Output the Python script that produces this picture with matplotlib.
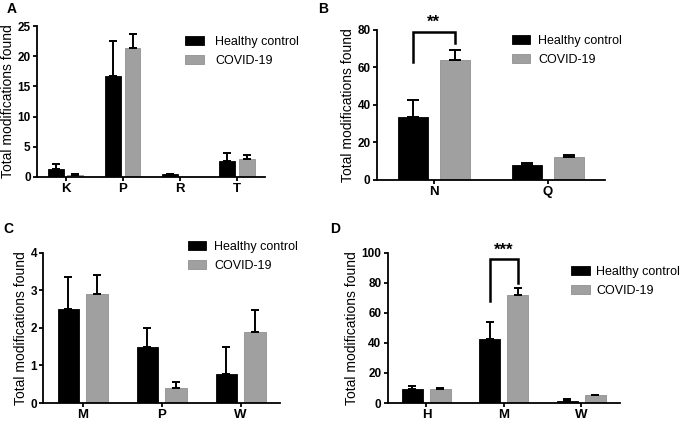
import matplotlib.pyplot as plt
import numpy as np

plt.rc('font', family='Liberation Sans', size=9)

# Panel A
a_cats = ['K', 'P', 'R', 'T']
a_hc = [1.3, 16.7, 0.4, 2.6]
a_hc_err = [0.9, 5.8, 0.1, 1.4]
a_cov = [0.35, 21.3, 0.0, 2.9]
a_cov_err = [0.05, 2.4, 0.0, 0.7]

# Panel B
b_cats = ['N', 'Q']
b_hc = [33.5, 8.0]
b_hc_err = [9.0, 1.0]
b_cov = [64.0, 12.0]
b_cov_err = [5.5, 1.0]

# Panel C
c_cats = ['M', 'P', 'W']
c_hc = [2.5, 1.5, 0.78]
c_hc_err = [0.85, 0.5, 0.72]
c_cov = [2.9, 0.4, 1.9]
c_cov_err = [0.5, 0.15, 0.58]

# Panel D
d_cats = ['H', 'M', 'W']
d_hc = [9.5, 42.5, 1.5]
d_hc_err = [1.5, 11.5, 1.0]
d_cov = [9.0, 72.0, 5.0]
d_cov_err = [0.8, 4.5, 0.5]

black = '#000000'
grey = '#a0a0a0'


def draw_panel(ax, cats, hc, hc_err, cov, cov_err, ymax, yticks, width, offset, capsize=3):
    x = np.arange(len(cats))
    ax.bar(x - offset, hc, width, color=black, edgecolor=black, linewidth=0.6,
           label='Healthy control', zorder=2)
    ax.bar(x + offset, cov, width, color=grey, edgecolor='#909090', linewidth=0.6,
           label='COVID-19', zorder=2)
    for xs, vals, errs in [(x - offset, hc, hc_err), (x + offset, cov, cov_err)]:
        for xi, v, e in zip(xs, vals, errs):
            if e > 0:
                ax.errorbar(xi, v, yerr=[[0], [e]], color=black, capsize=capsize,
                            elinewidth=1.4, capthick=1.4, zorder=3)
    ax.set_xlim(-0.5, len(cats) - 0.5)
    ax.set_ylim(0, ymax)
    ax.set_yticks(yticks)
    ax.set_xticks(x)
    ax.set_xticklabels(cats, fontweight='bold', fontsize=9.5)
    for lbl in ax.get_yticklabels():
        lbl.set_fontweight('bold')
        lbl.set_fontsize(8.5)
    ax.spines['top'].set_visible(False)
    ax.spines['right'].set_visible(False)
    ax.spines['left'].set_linewidth(1.3)
    ax.spines['bottom'].set_linewidth(1.3)
    ax.tick_params(direction='out', width=1.3, length=3, pad=1.5)
    ax.set_ylabel('Total modifications found', fontsize=10, labelpad=2)


def add_legend(ax, anchor, textpad=0.6):
    ax.legend(loc='upper left', bbox_to_anchor=anchor, bbox_transform=fig.transFigure,
              frameon=False, fontsize=9, borderpad=0, borderaxespad=0,
              handlelength=1.5, handleheight=0.75, handletextpad=textpad, labelspacing=0.55)


def bracket(ax, x0, x1, y0, ytop, y1, stars, ytext):
    ax.plot([x0, x0, x1, x1], [y0, ytop, ytop, y1], color='black', lw=1.8,
            solid_joinstyle='miter', zorder=4)
    ax.text((x0 + x1) / 2, ytext, stars, ha='center', va='bottom',
            fontsize=12, fontweight='bold')


fig = plt.figure(figsize=(6.85, 4.22), dpi=100)

axA = fig.add_axes([0.054, 0.581, 0.333, 0.357])
draw_panel(axA, a_cats, a_hc, a_hc_err, a_cov, a_cov_err, 25, [0, 5, 10, 15, 20, 25], 0.28, 0.175)
add_legend(axA, (0.270, 0.915), textpad=0.9)

axB = fig.add_axes([0.550, 0.574, 0.333, 0.355])
draw_panel(axB, b_cats, b_hc, b_hc_err, b_cov, b_cov_err, 80, [0, 20, 40, 60, 80], 0.265, 0.185, capsize=4)
add_legend(axB, (0.747, 0.917))
bracket(axB, -0.185, 0.185, 63, 79, 73, '**', 80)

axC = fig.add_axes([0.063, 0.045, 0.346, 0.356])
draw_panel(axC, c_cats, c_hc, c_hc_err, c_cov, c_cov_err, 4, [0, 1, 2, 3, 4], 0.27, 0.18)
add_legend(axC, (0.274, 0.429))

axD = fig.add_axes([0.566, 0.045, 0.339, 0.356])
draw_panel(axD, d_cats, d_hc, d_hc_err, d_cov, d_cov_err, 100, [0, 20, 40, 60, 80, 100], 0.27, 0.18)
add_legend(axD, (0.834, 0.370), textpad=0.5)
bracket(axD, 0.82, 1.18, 68, 96, 80, '***', 97)

fig.text(0.010, 0.995, 'A', fontsize=10, fontweight='bold', va='top')
fig.text(0.464, 0.995, 'B', fontsize=10, fontweight='bold', va='top')
fig.text(0.005, 0.475, 'C', fontsize=10, fontweight='bold', va='top')
fig.text(0.482, 0.475, 'D', fontsize=10, fontweight='bold', va='top')

fig.savefig('out.png', dpi=100)
